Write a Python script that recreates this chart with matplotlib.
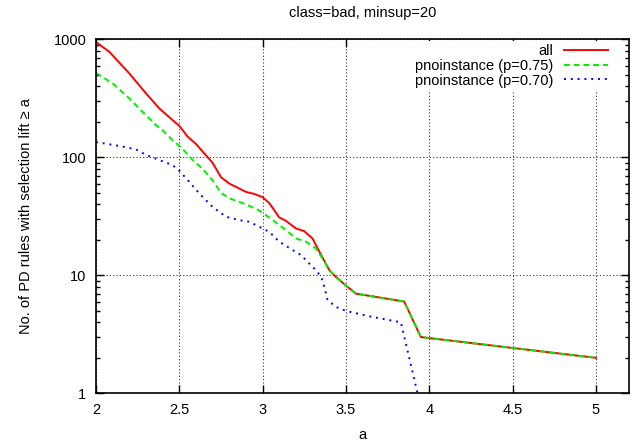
import matplotlib
matplotlib.use('Agg')
from matplotlib import pyplot as plt
from matplotlib.ticker import FixedLocator, LogLocator, NullFormatter

a_all = [2.0, 2.08, 2.2, 2.3, 2.38, 2.46, 2.5, 2.55, 2.6, 2.65, 2.7, 2.75, 2.8,
         2.9, 2.95, 3.0, 3.04, 3.1, 3.14, 3.2, 3.25, 3.3, 3.35, 3.4, 3.44, 3.5,
         3.56, 3.85, 3.95, 5.0]
n_all = [950, 785, 515, 349, 260, 207, 185, 150, 130, 108, 90, 68, 60,
         51, 49, 46, 41, 31, 29, 25, 23.7, 20.5, 15, 11.1, 9.7, 8.2,
         7.0, 6.0, 3.0, 2.0]

a_p75 = [2.0, 2.1, 2.2, 2.28, 2.36, 2.4, 2.46, 2.52, 2.58, 2.64, 2.7, 2.75, 2.8,
         2.9, 2.98, 3.06, 3.14, 3.2, 3.26, 3.32, 3.36, 3.4, 3.44, 3.5, 3.56,
         3.85, 3.95, 5.0]
n_p75 = [520, 424, 316, 243, 188, 170, 140, 118, 95, 80, 64, 50, 45,
         40, 35.5, 29.5, 24.2, 20.6, 19.3, 16.9, 13.9, 11.1, 9.7, 8.2, 7.0,
         6.0, 3.0, 2.0]

a_p70 = [2.0, 2.14, 2.24, 2.3, 2.38, 2.46, 2.5, 2.56, 2.62, 2.7, 2.78, 2.86,
         2.92, 2.98, 3.04, 3.1, 3.18, 3.23, 3.28, 3.33, 3.36, 3.39, 3.44, 3.5,
         3.64, 3.83, 3.93]
n_p70 = [135, 125, 117, 105, 95, 86, 77, 62, 49.5, 38, 31.4, 29.4,
         28.5, 25.8, 23.4, 19.3, 16.4, 14.9, 12.6, 10.7, 9.1, 6.2, 5.4, 5.0,
         4.5, 4.0, 1.0]

x_ticks = [2, 2.5, 3, 3.5, 4, 4.5, 5]
x_tick_labels = ['2', '2.5', '3', '3.5', '4', '4.5', '5']
y_ticks = [1, 10, 100, 1000]
y_tick_labels = ['1', '10', '100', '1000']

plt.rcParams['font.family'] = ['Liberation Sans', 'DejaVu Sans']
plt.rcParams['font.size'] = 10.5

fig = plt.figure(figsize=(6.4, 4.48), dpi=100)
ax = fig.add_axes([0.15, 0.122, 0.833, 0.790])

ax.plot(a_all, n_all, color='#ff0000', lw=1.4, label='all')
ax.plot(a_p75, n_p75, color='#00ee00', lw=1.4, dashes=(3, 2), label='pnoinstance (p=0.75)')
ax.plot(a_p70, n_p70, color='#0000ff', lw=1.4, dashes=(1, 2.5), label='pnoinstance (p=0.70)')

ax.set_yscale('log')
ax.set_xlim(2, 5.2)
ax.set_ylim(1, 1000)
ax.xaxis.set_major_locator(FixedLocator(x_ticks))
ax.set_xticklabels(x_tick_labels)
ax.yaxis.set_major_locator(FixedLocator(y_ticks))
ax.set_yticklabels(y_tick_labels)
ax.yaxis.set_minor_locator(LogLocator(base=10, subs=range(2, 10)))
ax.yaxis.set_minor_formatter(NullFormatter())

ax.tick_params(which='both', direction='in', top=True, right=True, width=1)
ax.tick_params(which='major', length=6, pad=7)
ax.tick_params(which='minor', length=3)
for side in ax.spines.values():
    side.set_linewidth(1.2)

ax.grid(True, which='major', color='#333333', linestyle=(0, (1, 2)), lw=0.8)
ax.set_axisbelow(True)

ax.set_title('class=bad, minsup=20', fontsize=10.5, pad=16)
ax.set_xlabel('a', labelpad=8)
ax.set_ylabel('No. of PD rules with selection lift \u2265 a', labelpad=15)

leg = ax.legend(loc='upper right', bbox_to_anchor=(0.965, 0.995), frameon=True,
                markerfirst=False, handlelength=3.0, handletextpad=0.7,
                labelspacing=0.05, borderaxespad=0, borderpad=0.2, fancybox=False)
leg.get_frame().set_facecolor('white')
leg.get_frame().set_edgecolor('none')
leg.get_frame().set_alpha(1)

fig.savefig('out.png', dpi=100)
